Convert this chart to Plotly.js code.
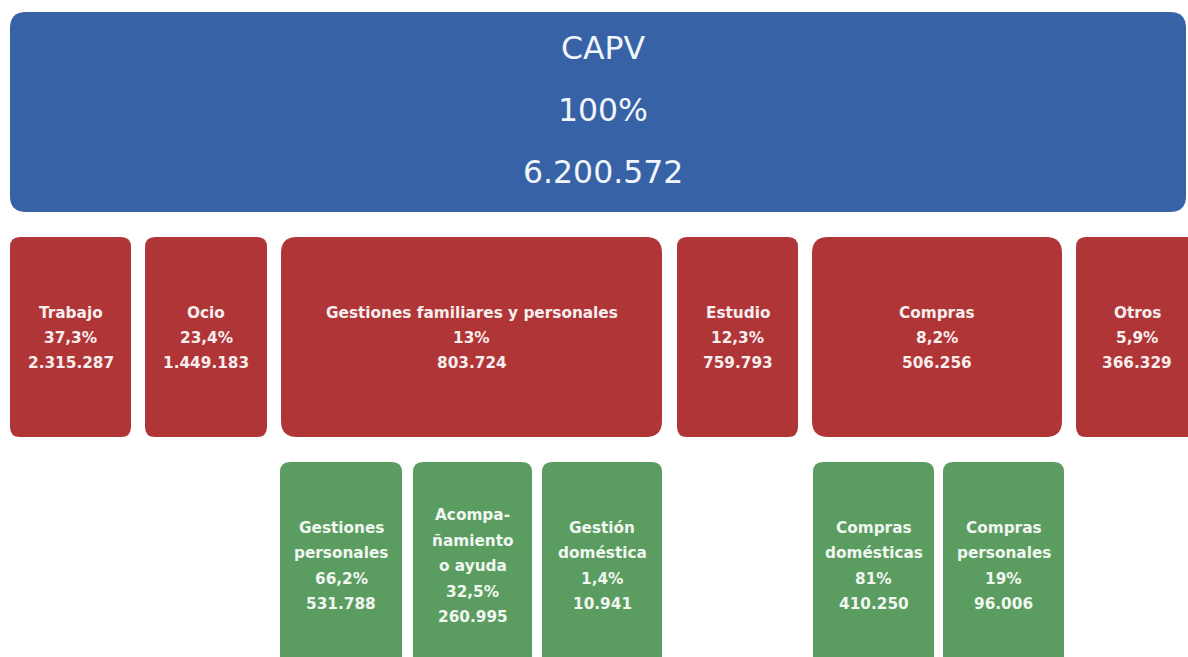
<!DOCTYPE html>
<html>
<head>
<meta charset="utf-8">
<script src="https://cdn.plot.ly/plotly-3.0.1.min.js"></script>
<style>html,body{margin:0;padding:0;background:#fff;}#chart{width:1188px;height:657px;}</style>
</head>
<body>
<div id="chart"></div>
<script>
// ---- data ----
const rootLabel = 'CAPV';
const rootPct = '100%';
const rootCount = '6.200.572';

const level1Labels = ['Trabajo', 'Ocio', 'Gestiones familiares y personales', 'Estudio', 'Compras', 'Otros'];
const level1Pct = ['37,3%', '23,4%', '13%', '12,3%', '8,2%', '5,9%'];
const level1Count = ['2.315.287', '1.449.183', '803.724', '759.793', '506.256', '366.329'];

const level2Labels = [['Gestiones', 'personales'], ['Acompa-', 'ñamiento', 'o ayuda'], ['Gestión', 'doméstica'], ['Compras', 'domésticas'], ['Compras', 'personales']];
const level2Parent = ['Gestiones familiares y personales', 'Gestiones familiares y personales', 'Gestiones familiares y personales', 'Compras', 'Compras'];
const level2Pct = ['66,2%', '32,5%', '1,4%', '81%', '19%'];
const level2Count = ['531.788', '260.995', '10.941', '410.250', '96.006'];

// ---- layout geometry (pixel-like coordinates on the axes) ----
const rootBox = {x0: 10, x1: 1186, y0: 12, y1: 212, r: 16};
const l1Box = [[10, 131], [145, 267], [281, 662], [677, 798], [812, 1062], [1076, 1202]];
const l1Y = [237, 437];
const l1R = [10, 10, 16, 10, 16, 10];
const l2Box = [[280, 402], [413, 532], [542, 662], [813, 934], [943, 1064]];
const l2Y = [462, 690];
const l2R = 10;

const BLUE = '#3763a6', RED = '#b03537', GREEN = '#5b9c60';

function rr(x0, y0, x1, y1, r) {
  return `M ${x0 + r},${y0} L ${x1 - r},${y0} Q ${x1},${y0} ${x1},${y0 + r} L ${x1},${y1 - r} Q ${x1},${y1} ${x1 - r},${y1} ` +
         `L ${x0 + r},${y1} Q ${x0},${y1} ${x0},${y1 - r} L ${x0},${y0 + r} Q ${x0},${y0} ${x0 + r},${y0} Z`;
}

const shapes = [];
const annotations = [];
function addLines(lines, cx, cy, step, font) {
  const n = lines.length;
  lines.forEach((t, i) => {
    annotations.push({
      x: cx, y: cy + (i - (n - 1) / 2) * step, xref: 'x', yref: 'y',
      text: t, showarrow: false, xanchor: 'center', yanchor: 'middle', font: font
    });
  });
}

// root
shapes.push({type: 'path', xref: 'x', yref: 'y', path: rr(rootBox.x0, rootBox.y0, rootBox.x1, rootBox.y1, rootBox.r), fillcolor: BLUE, line: {width: 0}, layer: 'below'});
addLines([rootLabel, rootPct, rootCount], 603, 110, 62,
  {family: 'DejaVu Sans', size: 31.5, color: '#f2f5fb'});

// level 1
const l1Font = {family: 'DejaVu Sans', size: 15.3, color: '#f8eeee', weight: 'bold'};
level1Labels.forEach((lab, i) => {
  const [x0, x1] = l1Box[i];
  shapes.push({type: 'path', xref: 'x', yref: 'y', path: rr(x0, l1Y[0], x1, l1Y[1], l1R[i]), fillcolor: RED, line: {width: 0}, layer: 'below'});
  let cx = (x0 + x1) / 2;
  if (i === level1Labels.length - 1) cx = 1137;
  addLines([lab, level1Pct[i], level1Count[i]], cx, 338, 25, l1Font);
});

// level 2
const l2Font = {family: 'DejaVu Sans', size: 15.3, color: '#f1f7f1', weight: 'bold'};
level2Labels.forEach((labLines, i) => {
  const [x0, x1] = l2Box[i];
  shapes.push({type: 'path', xref: 'x', yref: 'y', path: rr(x0, l2Y[0], x1, l2Y[1], l2R), fillcolor: GREEN, line: {width: 0}, layer: 'below'});
  addLines(labLines.concat([level2Pct[i], level2Count[i]]), (x0 + x1) / 2, 566, 25.5, l2Font);
});

const layout = {
  width: 1188, height: 657,
  margin: {l: 0, r: 0, t: 0, b: 0, pad: 0},
  paper_bgcolor: '#ffffff', plot_bgcolor: '#ffffff',
  xaxis: {range: [0, 1188], visible: false, fixedrange: true},
  yaxis: {range: [657, 0], visible: false, fixedrange: true},
  showlegend: false,
  shapes: shapes,
  annotations: annotations
};

Plotly.newPlot('chart', [{x: [], y: [], type: 'scatter', mode: 'markers', hoverinfo: 'skip'}], layout, {displayModeBar: false, staticPlot: true});
</script>
</body>
</html>
